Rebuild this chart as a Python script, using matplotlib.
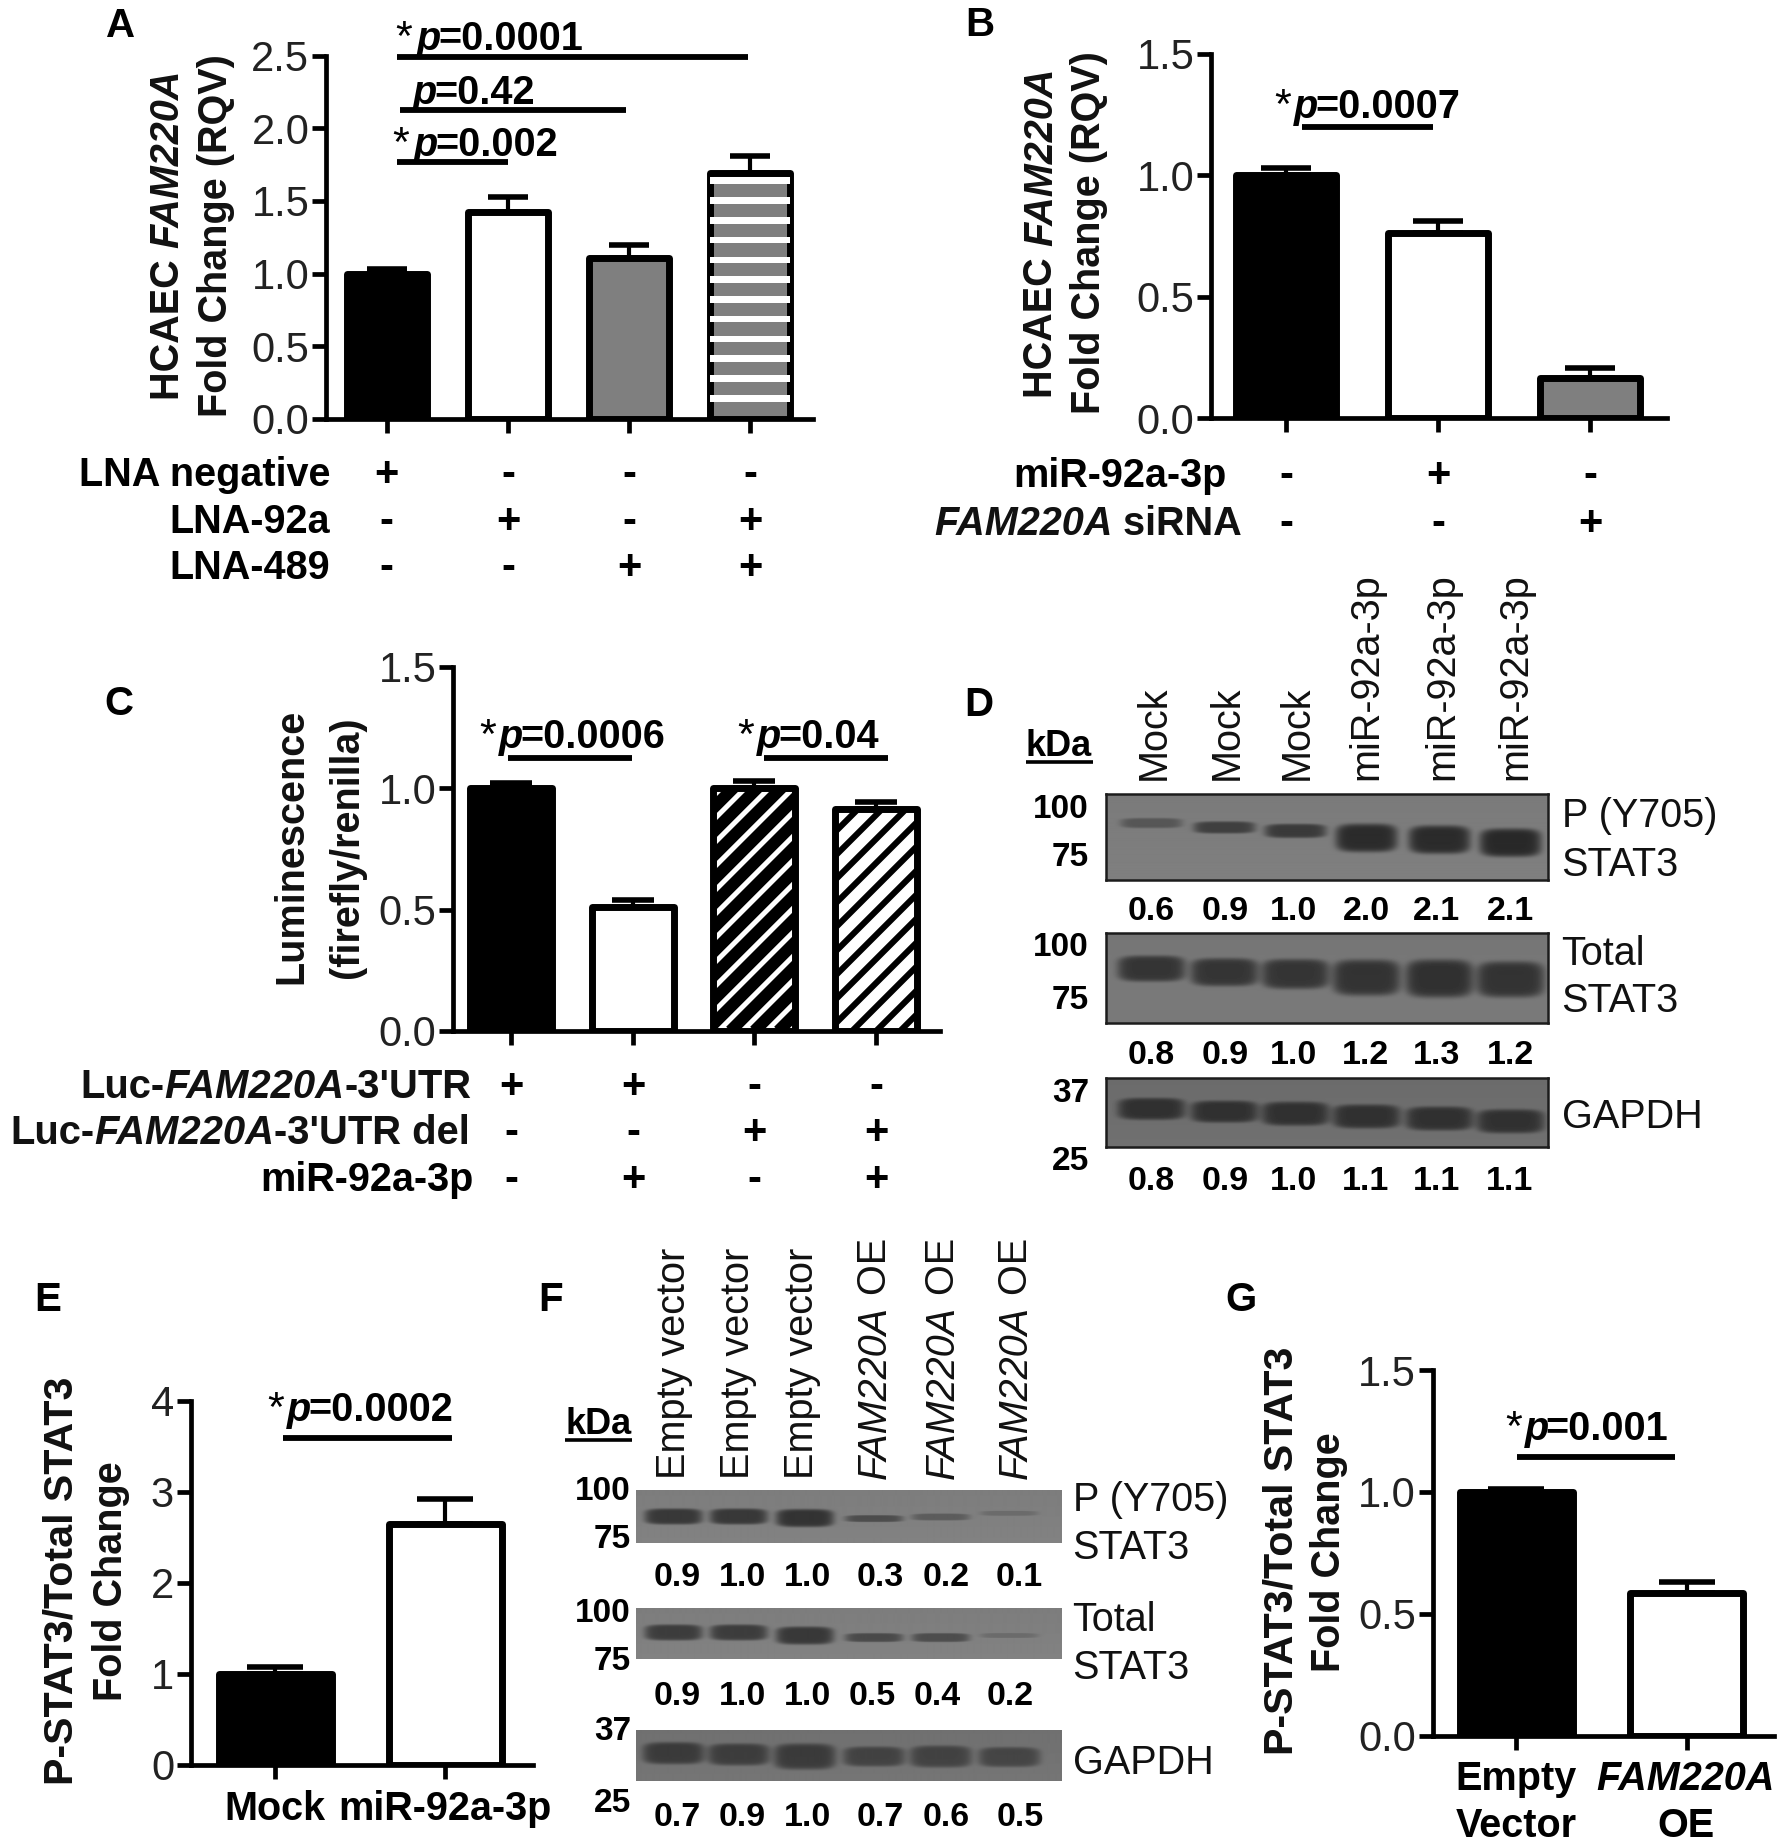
import numpy as np
import matplotlib
matplotlib.use('Agg')
import matplotlib.pyplot as plt

W, H = 1785, 1847
plt.rcParams['font.family'] = ['Liberation Sans', 'DejaVu Sans']

# bar data
a_vals = [1.0, 1.425, 1.105, 1.69]
a_tops = [1.03, 1.53, 1.20, 1.81]
b_vals = [1.0, 0.76, 0.165]
b_tops = [1.03, 0.81, 0.205]
c_vals = [1.0, 0.51, 1.0, 0.915]
c_tops = [1.02, 0.54, 1.03, 0.945]
e_vals = [1.0, 2.65]
e_tops = [1.08, 2.92]
g_vals = [1.0, 0.585]
g_tops = [1.01, 0.63]

a_rows = ['LNA negative', 'LNA-92a', 'LNA-489']
a_signs = [['+', '-', '-', '-'], ['-', '+', '-', '+'], ['-', '-', '+', '+']]
b_signs = [['-', '+', '-'], ['-', '-', '+']]
c_signs = [['+', '+', '-', '-'], ['-', '-', '+', '+'], ['-', '+', '-', '+']]

d_lanes = ['Mock', 'Mock', 'Mock', 'miR-92a-3p', 'miR-92a-3p', 'miR-92a-3p']
d_p = ['0.6', '0.9', '1.0', '2.0', '2.1', '2.1']
d_total = ['0.8', '0.9', '1.0', '1.2', '1.3', '1.2']
d_gapdh = ['0.8', '0.9', '1.0', '1.1', '1.1', '1.1']
f_p = ['0.9', '1.0', '1.0', '0.3', '0.2', '0.1']
f_total = ['0.9', '1.0', '1.0', '0.5', '0.4', '0.2']
f_gapdh = ['0.7', '0.9', '1.0', '0.7', '0.6', '0.5']

# band position (fraction of blot height), half thickness px, grey level
d1_band = ([.34, .39, .43, .51, .53, .565], [5, 6, 7, 14, 14, 14], [.34, .25, .23, .17, .17, .16])
d2_band = ([.39, .43, .45, .49, .50, .51], [13, 14, 15, 18, 19, 18], [.21, .21, .21, .20, .19, .20])
d3_band = ([.44, .48, .51, .55, .58, .62], [11, 11, 12, 12, 12, 12], [.19, .19, .19, .19, .19, .19])
f1_band = ([.49, .49, .52, .53, .50, .43], [8, 8, 9, 3.5, 3.5, 2.5], [.22, .22, .20, .30, .36, .42])
f2_band = ([.47, .47, .53, .57, .57, .53], [8, 8, 9, 4.5, 4.5, 2.5], [.24, .24, .22, .29, .30, .42])
f3_band = ([.445, .47, .51, .51, .51, .52], [11, 11, 13, 10, 11, 10], [.23, .24, .23, .26, .26, .27])

fig = plt.figure(figsize=(W / 100, H / 100), dpi=100)
rend = fig.canvas.get_renderer()
FS = 28.5
STYLE_OK = {'n': 'normal', 'i': 'italic'}


def T(x, y, s, size=FS, weight='normal', ha='left', style='normal', color='#111111', rot=0, va='baseline'):
    return fig.text(x / W, 1 - y / H, s, fontsize=size, fontweight=weight, ha=ha, va=va, style=style,
                    color=color, rotation=rot, rotation_mode='anchor')


def adv(s, size, weight, style):
    # width with spaces counted
    t = fig.text(0, 0, 'H' + s + 'H', fontsize=size, fontweight=weight, style=style)
    t0 = fig.text(0, 0, 'HH', fontsize=size, fontweight=weight, style=style)
    w = t.get_window_extent(rend).width - t0.get_window_extent(rend).width
    t.remove()
    t0.remove()
    return w


def rich(x, y, parts, size=FS, weight='bold', ha='left', rot=0):
    # parts: (text, 'n' or 'i'), laid out one after the other
    ws = [adv(s, size, weight, STYLE_OK[k]) for s, k in parts]
    total = sum(ws)
    pos = {'left': 0, 'right': total, 'center': total / 2}[ha]
    for (s, k), w in zip(parts, ws):
        if rot == 90:
            T(x, y + pos, s, size, weight, style=STYLE_OK[k], rot=90)
        else:
            T(x - pos, y, s, size, weight, style=STYLE_OK[k])
        pos -= w


def ylab(cx, cy, parts, size=FS):
    # cx is the middle of the caps, baseline sits to its right
    rich(cx + 0.36 * size / 0.72, cy, parts, size, ha='center', rot=90)


def hline(x0, x1, y, lw=4.2):
    fig.add_artist(plt.Line2D([x0 / W, x1 / W], [1 - y / H, 1 - y / H], color='k', lw=lw, solid_capstyle='butt'))


def stat(star_x, p_x, base, text, x0, x1, line_y):
    if star_x is not None:
        T(star_x - 2, base, '*', 31, color='k')
    T(p_x, base, 'p', FS, 'bold', style='italic', color='k')
    T(p_x + 21, base, text, FS, 'bold', color='k')
    hline(x0, x1, line_y)


def bar_panel(ax_x, x_end, y0, ytop, c0, step, ymax, yticks, ticklabels, vals, tops, fills, bar_w):
    ax = fig.add_axes([ax_x / W, 1 - y0 / H, (x_end - ax_x) / W, (y0 - ytop) / H])
    ax.set_xlim((ax_x - c0) / step, (x_end - c0) / step)
    ax.set_ylim(0, ymax)
    ax.patch.set_alpha(0)
    for s in ['top', 'right']:
        ax.spines[s].set_visible(False)
    for s in ['left', 'bottom']:
        ax.spines[s].set_linewidth(3.4)
    ax.set_yticks(yticks)
    ax.set_yticklabels(ticklabels, fontsize=30, color='#222222')
    ax.tick_params(axis='y', length=10, width=3.4, pad=2)
    ax.set_xticks(range(len(vals)))
    ax.set_xticklabels([])
    ax.tick_params(axis='x', length=10, width=3.4)
    inner = (bar_w - 7) / step
    xs = np.arange(len(vals))
    errs = np.array(tops) - np.array(vals)
    ax.errorbar(xs, vals, yerr=[np.zeros(len(vals)), errs], fmt='none', ecolor='k', elinewidth=3,
                capsize=bar_w * 0.235 * 0.72, capthick=4, zorder=1)
    bars = ax.bar(xs, vals, width=inner, color=fills, edgecolor='k', linewidth=5, joinstyle='round', zorder=2)
    return ax, bars, inner


def sign_rows(centers, rows_y, signs):
    for y, row in zip(rows_y, signs):
        for cx, s in zip(centers, row):
            T(cx, y + 13, s, 30, 'bold', ha='center', color='k')


def blot(x0, x1, y0, y1, lanes, bands, bg, half_w, border=None):
    ax = fig.add_axes([x0 / W, 1 - y1 / H, (x1 - x0) / W, (y1 - y0) / H])
    xx, yy = np.meshgrid(np.arange(x0, x1), np.arange(y1 - y0))
    img = np.full(xx.shape, float(bg))
    img = img + 0.02 * (yy / (y1 - y0) - 0.5)
    for lx, fr, th, lev in zip(lanes, bands[0], bands[1], bands[2]):
        # rounded band with fairly sharp edges
        r = ((xx - lx) / half_w) ** 4 + ((yy - fr * (y1 - y0)) / th) ** 4
        img = img - (bg - lev) * np.exp(-r * r)
    ax.imshow(img, cmap='gray', vmin=0, vmax=1, aspect='auto', interpolation='bilinear')
    ax.set_xticks([])
    ax.set_yticks([])
    for s in ax.spines.values():
        if border:
            s.set_linewidth(1.8)
            s.set_color(border)
        else:
            s.set_visible(False)


# A
cx_a = [386.5, 508, 629, 750]
ax, bars, inner = bar_panel(326, 812.5, 419, 55.5, 386.5, 121.2, 2.5, [0, .5, 1, 1.5, 2, 2.5],
                            ['0.0', '0.5', '1.0', '1.5', '2.0', '2.5'], a_vals, a_tops,
                            ['k', 'w', '#7f7f7f', '#7f7f7f'], 87)
stripes = np.arange(0.12, 1.66, 0.136)
ax.bar([3] * len(stripes), [0.045] * len(stripes), bottom=stripes, width=inner, color='w', zorder=1.9 + 0.2)
bars[3].set_facecolor('none')
ax.bar(3, a_vals[3], width=inner, color='#7f7f7f', zorder=1.5)
T(106, 37, 'A', 29, 'bold', color='k')
ylab(164.5, 235, [('HCAEC ', 'n'), ('FAM220A', 'i')])
ylab(213, 236, [('Fold Change (RQV)', 'n')])
stat(397, 417, 49.5, '=0.0001', 397, 748, 57.4)
stat(None, 413, 104, '=0.42', 400, 626, 110)
stat(394, 414, 156, '=0.002', 397, 508, 162)
for y, s in zip([473, 520, 566], a_rows):
    T(330, y + 13, s, FS, 'bold', ha='right', color='k')
sign_rows(cx_a, [473, 520, 566], a_signs)

# B
cx_b = [1286, 1438, 1590]
bar_panel(1211, 1667, 418, 53.6, 1286, 152, 1.5, [0, .5, 1, 1.5], ['0.0', '0.5', '1.0', '1.5'],
          b_vals, b_tops, ['k', 'w', '#7f7f7f'], 107)
T(965, 36, 'B', 29, 'bold', color='k')
ylab(1038, 233, [('HCAEC ', 'n'), ('FAM220A', 'i')])
ylab(1086, 233, [('Fold Change (RQV)', 'n')])
stat(1276, 1294, 117.5, '=0.0007', 1302, 1433, 126.5)
T(1227, 487, 'miR-92a-3p', FS, 'bold', ha='right', color='k')
rich(1242, 535, [('FAM220A', 'i'), (' siRNA', 'n')], ha='right')
sign_rows(cx_b, [474.5, 522], b_signs)

# C
cx_c = [511, 633.5, 754.5, 876]
ax, bars, inner = bar_panel(453, 940, 1031, 667, 511, 121.7, 1.5, [0, .5, 1, 1.5], ['0.0', '0.5', '1.0', '1.5'],
                            c_vals, c_tops, ['k', 'w', 'w', 'w'], 89)
per_px = 1.5 / (1031 - 667)
for i, stripe_lw in zip([2, 3], [8.6, 4.4]):
    for k in np.arange(-18, 8):
        # slanted stripes, 24 px apart, clipped to the bar
        xa = i + k * 24 / 121.7
        ln, = ax.plot([xa, xa + 364 / 121.7], [0, 364 * per_px], color='k', lw=stripe_lw, zorder=1.95,
                      solid_capstyle='butt')
        ln.set_clip_path(bars[i])
    bars[i].set_facecolor('none')
    ax.bar(i, c_vals[i], width=inner, color='w', zorder=1.5)
T(104, 715, 'C', 29, 'bold', color='k')
ylab(288, 846, [('Luminescence', 'n')])
ylab(344, 847.5, [('(firefly/renilla)', 'n')])
stat(481, 499, 747.5, '=0.0006', 508, 632, 758)
stat(739, 757, 747.5, '=0.04', 764, 888, 758)
rich(471, 1098, [('Luc-', 'n'), ('FAM220A', 'i'), ("-3'UTR", 'n')], 28.8, ha='right')
rich(470, 1144, [('Luc-', 'n'), ('FAM220A', 'i'), ("-3'UTR del", 'n')], 28.8, ha='right')
T(474, 1191, 'miR-92a-3p', FS, 'bold', ha='right', color='k')
sign_rows(cx_c, [1085, 1131, 1178], c_signs)

# D
T(964, 716, 'D', 29, 'bold', color='k')
T(1026, 755.7, 'kDa', 26, 'bold', color='k')
hline(1026, 1093, 762, 2.6)
for y, s in zip([817.6, 866, 955.6, 1009, 1102, 1170], ['100', '75', '100', '75', '37', '25']):
    T(1089, y, s, 24, 'bold', ha='right', color='k')
d_x = [1151, 1224, 1295, 1366, 1439, 1510]
d_lab_x = [1151, 1224, 1293.5, 1363, 1439, 1512]
for x, s in zip(d_lab_x, d_lanes):
    T(x + 14, 779.7, s, FS, rot=90)
blot(1106, 1548, 794, 880, d_x, d1_band, .49, 31, '#1c1c1c')
blot(1106, 1548, 933, 1023, d_x, d2_band, .47, 34, '#1c1c1c')
blot(1106, 1548, 1078, 1147, d_x, d3_band, .43, 34, '#1c1c1c')
d_val_x = [1151, 1225.6, 1293.5, 1366, 1436.5, 1510]
for y, row in zip([920, 1064, 1190], [d_p, d_total, d_gapdh]):
    for x, s in zip(d_val_x, row):
        T(x, y, s, 24.5, 'bold', ha='center', color='k')
for y, s in zip([827, 875.7, 965, 1012.5, 1128], ['P (Y705)', 'STAT3', 'Total', 'STAT3', 'GAPDH']):
    T(1561.6, y, s)

# E
bar_panel(190.7, 532.5, 1765, 1400.7, 275, 170, 4, [0, 1, 2, 3, 4], ['0', '1', '2', '3', '4'],
          e_vals, e_tops, ['k', 'w'], 120)
T(34, 1311, 'E', 29, 'bold', color='k')
ylab(57.5, 1581, [('P-STAT3/Total STAT3', 'n')], 29.6)
ylab(107.5, 1581, [('Fold Change', 'n')])
stat(269, 287, 1421, '=0.0002', 282.5, 452, 1437.5)
T(275, 1820, 'Mock', FS, 'bold', ha='center', color='k')
T(444.6, 1820, 'miR-92a-3p', FS, 'bold', ha='center', color='k')

# F
T(538, 1311, 'F', 29, 'bold', color='k')
T(565, 1434, 'kDa', 26, 'bold', color='k')
hline(565, 632, 1440, 2.6)
for y, s in zip([1500, 1548, 1622, 1670, 1740, 1812], ['100', '75', '100', '75', '37', '25']):
    T(631, y, s, 24, 'bold', ha='right', color='k')
f_x = [673, 738, 804, 873, 939.5, 1008]
for x in [671, 735, 799.4]:
    T(x + 14, 1479, 'Empty vector', FS, rot=90)
for x in [871.5, 939.5, 1013]:
    rich(x + 14, 1479, [('FAM220A', 'i'), (' OE', 'n')], FS, 'normal', rot=90)
blot(636, 1061, 1490, 1543, f_x, f1_band, .50, 29)
blot(636, 1061, 1608, 1659, f_x, f2_band, .50, 29)
blot(636, 1061, 1730, 1781, f_x, f3_band, .45, 31)
row_xs = [[677, 742, 807, 880.7, 946, 1019], [677, 742, 807, 872, 937, 1010.6], [677, 742, 807, 880.7, 946, 1020]]
for y, xs_, row in zip([1586, 1705, 1826], row_xs, [f_p, f_total, f_gapdh]):
    for x, s in zip(xs_, row):
        T(x, y, s, 24.5, 'bold', ha='center', color='k')
for y, s in zip([1511, 1559, 1631, 1679, 1774], ['P (Y705)', 'STAT3', 'Total', 'STAT3', 'GAPDH']):
    T(1072.6, y, s)

# G
bar_panel(1432.6, 1774, 1735.6, 1370, 1516, 170.7, 1.5, [0, .5, 1, 1.5], ['0.0', '0.5', '1.0', '1.5'],
          g_vals, g_tops, ['k', 'w'], 120)
T(1225, 1311, 'G', 29, 'bold', color='k')
ylab(1277.7, 1551, [('P-STAT3/Total STAT3', 'n')], 29.6)
ylab(1326, 1552, [('Fold Change', 'n')])
stat(1507, 1524.5, 1440, '=0.001', 1517, 1675, 1456.6)
T(1516, 1790, 'Empty', FS, 'bold', ha='center', color='k')
T(1516, 1837, 'Vector', FS, 'bold', ha='center', color='k')
T(1685.6, 1790, 'FAM220A', FS, 'bold', ha='center', style='italic', color='k')
T(1685.6, 1837, 'OE', FS, 'bold', ha='center', color='k')

fig.savefig('out.png', dpi=100, facecolor='white')
